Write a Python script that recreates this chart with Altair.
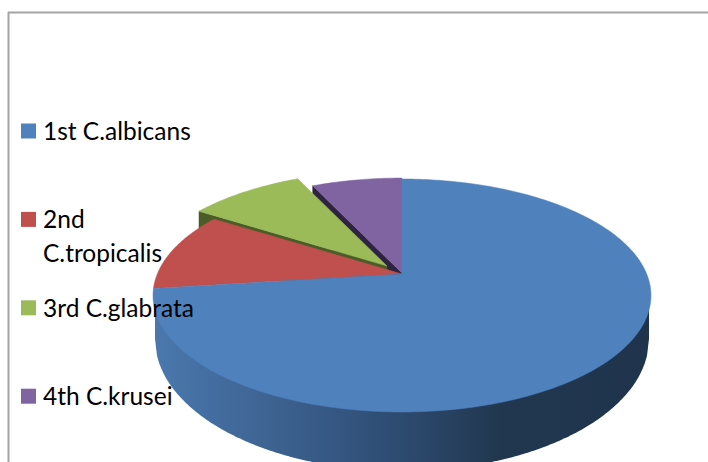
import math
import altair as alt
import pandas as pd

# Species shares, clockwise from twelve o'clock
species = ["1st C.albicans", "2nd\nC.tropicalis", "3rd C.glabrata", "4th C.krusei"]
shares = [73, 11, 9, 7]
colors = ["#4f81bd", "#c0504d", "#9bbb59", "#8064a2"]
wall_colors = ["#4f81bd", "#6b2c2a", "#4b5c29", "#2e2441"]

W, H = 708, 462

# Tilted-disc projection of the pie's top face
HUB_X, HUB_Y = 402, 274
SPAN_X, SPAN_Y, TILT = 244.7, 112.5, 0.1845
# Slices pulled away from the hub
OFFSETS = [(0, 0), (0, 0), (-15, -8), (0, -1)]
# Lower rim of the drum
BASE_X, BASE_Y, BASE_RX, BASE_RY = 402, 339, 247, 132
WALL_DROP = 45


def rim(theta, dx=0, dy=0):
    u, v = math.sin(theta), math.cos(theta)
    w = 1 + TILT * v
    return HUB_X + SPAN_X * u / w + dx, HUB_Y - SPAN_Y * v / w + dy


def frame(points):
    return pd.DataFrame(
        [{"x": x, "y": y, "i": i} for i, (x, y) in enumerate(points)]
    )


X = alt.X("x:Q", scale=alt.Scale(domain=[0, W], nice=False, zero=False), axis=None)
Y = alt.Y("y:Q", scale=alt.Scale(domain=[H, 0], nice=False, zero=False), axis=None)


def polygon(points, color):
    return (
        alt.Chart(frame(points))
        .mark_line(fill=color, stroke=color, strokeWidth=0.5, filled=True, clip=True)
        .encode(x=X, y=Y, order="i:Q")
    )


# Angular extents of the slices
total = sum(shares)
edges = [0.0]
for s in shares:
    edges.append(edges[-1] + 2 * math.pi * s / total)

wedges, walls = [], []
for k in range(len(shares)):
    dx, dy = OFFSETS[k]
    a0, a1 = edges[k], edges[k + 1]
    steps = max(4, int((a1 - a0) * 60))
    arc = [rim(a0 + (a1 - a0) * j / steps, dx, dy) for j in range(steps + 1)]
    tip = (HUB_X + dx, HUB_Y + dy)
    wedges.append(polygon([tip] + arc + [tip], colors[k]))
    # Cut face along the slice's leading edge
    start = arc[0]
    walls.append(
        polygon(
            [tip, start, (start[0], start[1] + WALL_DROP), (tip[0], tip[1] + WALL_DROP), tip],
            wall_colors[k],
        )
    )

# Outer wall of the large slice, shaded left to right
wall_points = []
for j in range(241):
    x = BASE_X - BASE_RX + 2 * BASE_RX * j / 240
    t = (x - BASE_X) / BASE_RX
    wall_points.append(
        {"x": x, "y": BASE_Y + BASE_RY * math.sqrt(max(0, 1 - t * t)), "y2": 295}
    )

wall = (
    alt.Chart(pd.DataFrame(wall_points))
    .mark_area(
        clip=True,
        color=alt.Gradient(
            gradient="linear",
            x1=0,
            x2=1,
            y1=0,
            y2=0,
            stops=[
                alt.GradientStop(offset=0, color="#4a78ae"),
                alt.GradientStop(offset=0.2, color="#3f6696"),
                alt.GradientStop(offset=0.45, color="#304f77"),
                alt.GradientStop(offset=0.7, color="#21374f"),
                alt.GradientStop(offset=1, color="#1f334d"),
            ],
        ),
    )
    .encode(x=X, y=Y, y2="y2:Q")
)

# Chart frame
frame_left = alt.Chart(pd.DataFrame({"a": [0]})).mark_rule(
    color="#a3a3a3", strokeWidth=2
).encode(x=alt.value(8.5), y=alt.value(12), y2=alt.value(H))
frame_top = alt.Chart(pd.DataFrame({"a": [0]})).mark_rule(
    color="#a3a3a3", strokeWidth=2
).encode(y=alt.value(12.5), x=alt.value(8), x2=alt.value(W))

# Legend column
LEGEND_TOP, LEGEND_STEP = 131, 88.4
legend = []
for k, name in enumerate(species):
    row = LEGEND_TOP + LEGEND_STEP * k
    legend.append(
        alt.Chart(pd.DataFrame({"name": [name]}))
        .mark_square(size=225, color=colors[k], opacity=1, filled=True)
        .encode(x=alt.value(28.5), y=alt.value(row))
    )
    legend.append(
        alt.Chart(pd.DataFrame({"name": [name]}))
        .mark_text(
            align="left",
            baseline="alphabetic",
            font="Lato",
            fontSize=24.5,
            color="#000000",
            lineBreak="\n",
            lineHeight=34,
        )
        .encode(x=alt.value(43), y=alt.value(row + 9), text="name:N")
    )

layers = [
    walls[3], wedges[3],
    walls[2], wedges[2],
    wedges[1],
    wall, wedges[0],
    frame_left, frame_top,
] + legend

chart = alt.layer(*layers).properties(
    width=W,
    height=H,
    padding=0,
    autosize=alt.AutoSizeParams(type="none"),
    background="white",
).configure_view(stroke=None)

chart.save("out.html", embed_options={"renderer": "svg", "actions": False})
